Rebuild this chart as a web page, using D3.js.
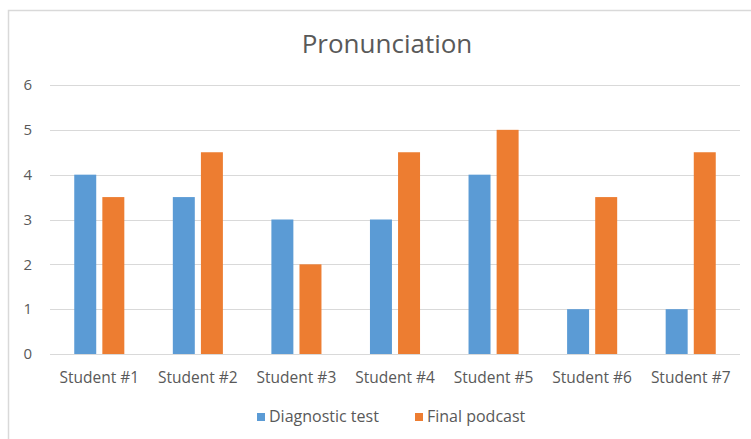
<!DOCTYPE html>
<html>
<head>
<meta charset="utf-8">
<script src="https://cdn.jsdelivr.net/npm/d3@7"></script>
<style>
  body { margin: 0; background: #fff; }
  text { font-family: "Open Sans", sans-serif; fill: #595959; }
</style>
</head>
<body>
<div id="chart"></div>
<script>
const students = ['Student #1', 'Student #2', 'Student #3', 'Student #4', 'Student #5', 'Student #6', 'Student #7'];
const diagnostic = [4, 3.5, 3, 3, 4, 1, 1];
const finalPodcast = [3.5, 4.5, 2, 4.5, 5, 3.5, 4.5];
const yTicks = [0, 1, 2, 3, 4, 5, 6];
const seriesNames = ['Diagnostic test', 'Final podcast'];
const colors = ['#5B9BD5', '#ED7D31'];

const width = 751, height = 439;
const plot = { left: 50, right: 740, top: 85, bottom: 354 };

const svg = d3.select('#chart')
  .append('svg')
  .attr('width', width)
  .attr('height', height);

// chart frame (only left and top edges show in the picture)
svg.append('path')
  .attr('d', 'M8.5,' + height + 'V10.5H' + width)
  .attr('fill', 'none')
  .attr('stroke', '#d9d9d9')
  .attr('stroke-width', 1.5);

let x = d3.scaleBand()
  .domain(students)
  .range([plot.left, plot.right]);

let y = d3.scaleLinear()
  .domain([0, 6])
  .range([plot.bottom, plot.top]);

// gridlines
svg.append('g')
  .selectAll('line')
  .data(yTicks)
  .enter()
  .append('line')
  .attr('x1', plot.left)
  .attr('x2', plot.right)
  .attr('y1', function (d) { return Math.round(y(d)) + 0.5; })
  .attr('y2', function (d) { return Math.round(y(d)) + 0.5; })
  .attr('stroke', '#d9d9d9')
  .attr('stroke-width', 1);

// y labels
svg.append('g')
  .selectAll('text')
  .data(yTicks)
  .enter()
  .append('text')
  .attr('x', 32)
  .attr('y', function (d) { return y(d); })
  .attr('dy', '0.35em')
  .style('text-anchor', 'end')
  .style('font-size', '15px')
  .text(function (d) { return d; });

// bars
let barW = x.step() * 0.223;
let barGap = x.step() * 0.062;
let sub = d3.scaleOrdinal()
  .domain([0, 1])
  .range([-barGap / 2 - barW, barGap / 2]);

[diagnostic, finalPodcast].forEach(function (vals, s) {
  svg.append('g')
    .selectAll('rect')
    .data(vals)
    .enter()
    .append('rect')
    .attr('x', function (d, i) { return x(students[i]) + x.bandwidth() / 2 + sub(s); })
    .attr('y', function (d) { return y(d); })
    .attr('width', barW)
    .attr('height', function (d) { return y(0) - y(d); })
    .attr('fill', colors[s]);
});

// x labels
svg.append('g')
  .selectAll('text')
  .data(students)
  .enter()
  .append('text')
  .attr('x', function (d) { return x(d) + x.bandwidth() / 2; })
  .attr('y', 383)
  .style('text-anchor', 'middle')
  .style('font-size', '15.5px')
  .text(function (d) { return d; });

// title
svg.append('text')
  .attr('x', 387)
  .attr('y', 53)
  .style('text-anchor', 'middle')
  .style('font-size', '26px')
  .text('Pronunciation');

// legend
let legendX = [257, 415];
let legend = svg.append('g')
  .selectAll('g')
  .data(seriesNames)
  .enter()
  .append('g')
  .attr('transform', function (d, i) { return 'translate(' + legendX[i] + ',413)'; });

legend.append('rect')
  .attr('width', 8)
  .attr('height', 8)
  .attr('fill', function (d, i) { return colors[i]; });

legend.append('text')
  .attr('x', 12)
  .attr('y', 9)
  .style('font-size', '16px')
  .text(function (d) { return d; });
</script>
</body>
</html>
